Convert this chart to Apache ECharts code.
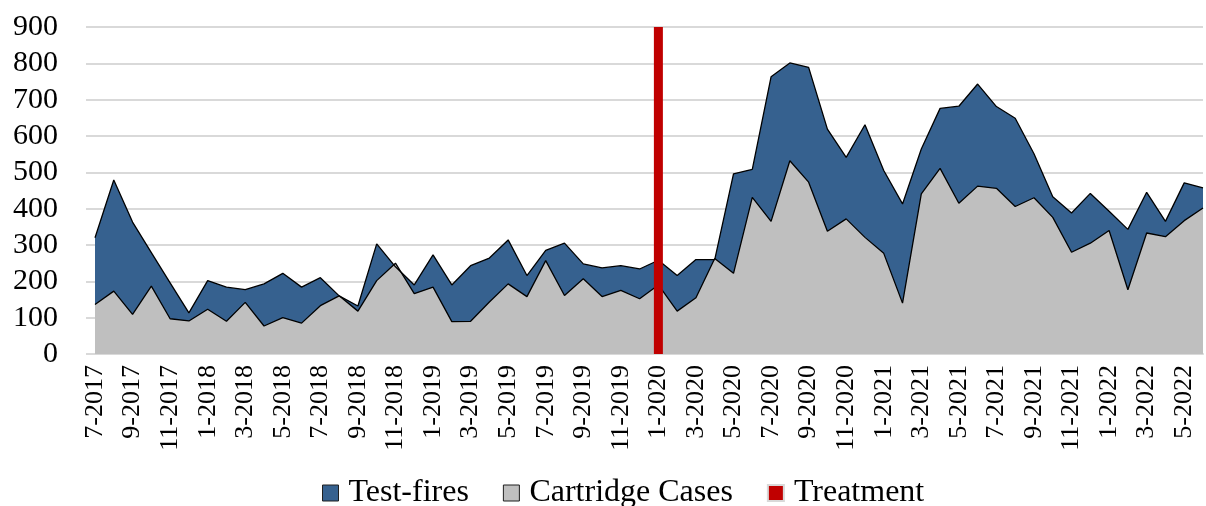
<html>
    <head>
        <meta charset="UTF-8">
    </head>
    <body style="margin:0">
        <div id="container" style="width: 1206px;height: 506px"></div>
        <script type="text/javascript" src="https://cdn.jsdelivr.net/npm/echarts@6/dist/echarts.min.js"></script>
        <script type="text/javascript">
        var months = ['7-2017','8-2017','9-2017','10-2017','11-2017','12-2017',
            '1-2018','2-2018','3-2018','4-2018','5-2018','6-2018','7-2018','8-2018','9-2018','10-2018','11-2018','12-2018',
            '1-2019','2-2019','3-2019','4-2019','5-2019','6-2019','7-2019','8-2019','9-2019','10-2019','11-2019','12-2019',
            '1-2020','2-2020','3-2020','4-2020','5-2020','6-2020','7-2020','8-2020','9-2020','10-2020','11-2020','12-2020',
            '1-2021','2-2021','3-2021','4-2021','5-2021','6-2021','7-2021','8-2021','9-2021','10-2021','11-2021','12-2021',
            '1-2022','2-2022','3-2022','4-2022','5-2022','6-2022'];

        var testFires = [320,479,363,279,196,113,
            202,184,177,193,222,184,210,160,132,303,240,190,
            273,190,243,264,314,216,285,305,248,237,243,234,
            258,216,260,260,496,508,763,801,789,619,541,631,
            505,413,564,676,682,743,681,649,551,433,388,442,
            393,343,445,365,471,457];

        var cartridgeCases = [136,173,109,187,97,91,
            123,90,142,77,100,85,133,160,118,202,250,166,
            184,89,90,143,193,158,257,161,207,158,175,152,
            190,118,155,263,222,431,365,532,473,338,372,321,
            277,140,441,511,415,462,456,406,430,376,280,305,
            340,177,333,323,367,402];

        var treatmentMonth = '1-2020';
        var treatmentValue = 900;

        var treatment = months.map(function (m) {
            return m === treatmentMonth ? treatmentValue : null;
        });

        var blue = '#36618f';
        var grey = '#bfbfbf';
        var red = '#c00000';
        var serif = 'Liberation Serif';

        var myChart = echarts.init(document.getElementById("container"));
        var option = {
            animation: false,
            grid: {left: 95, right: 3, top: 27, bottom: 152},
            legend: {
                top: 472,
                left: 317,
                itemWidth: 16,
                itemHeight: 16,
                itemGap: 34,
                textStyle: {fontFamily: serif, fontSize: 32, color: '#000', padding: [0, 0, 0, 5]},
                data: [
                    {name: 'Test-fires', icon: 'rect', itemStyle: {color: blue, borderColor: '#1f1f1f', borderWidth: 1}},
                    {name: 'Cartridge Cases', icon: 'rect', itemStyle: {color: grey, borderColor: '#1f1f1f', borderWidth: 1}},
                    {name: 'Treatment', icon: 'rect', itemStyle: {color: red, borderColor: '#d9d9d9', borderWidth: 2}}
                ]
            },
            xAxis: {
                type: 'category',
                data: months,
                boundaryGap: false,
                axisLine: {lineStyle: {color: '#d9d9d9', width: 2}},
                axisTick: {show: false},
                axisLabel: {
                    interval: 1,
                    rotate: 90,
                    margin: 11,
                    fontFamily: serif,
                    fontSize: 26,
                    color: '#000'
                }
            },
            yAxis: {
                type: 'value',
                min: 0,
                max: 900,
                interval: 100,
                axisLine: {show: false},
                axisTick: {show: true, length: 9, lineStyle: {color: '#d9d9d9', width: 2}},
                splitLine: {lineStyle: {color: '#d9d9d9', width: 2}},
                axisLabel: {
                    margin: 37,
                    fontFamily: serif,
                    fontSize: 30,
                    color: '#000'
                }
            },
            series: [
                {
                    name: 'Test-fires',
                    type: 'line',
                    data: testFires,
                    symbol: 'none',
                    itemStyle: {color: blue},
                    lineStyle: {color: '#000', width: 1.3},
                    areaStyle: {color: blue, opacity: 1}
                },
                {
                    name: 'Cartridge Cases',
                    type: 'line',
                    data: cartridgeCases,
                    symbol: 'none',
                    itemStyle: {color: grey},
                    lineStyle: {color: '#000', width: 1.3},
                    areaStyle: {color: grey, opacity: 1}
                },
                {
                    name: 'Treatment',
                    type: 'bar',
                    data: treatment,
                    barWidth: 9,
                    itemStyle: {color: red},
                    z: 5
                }
            ]
        };
        myChart.setOption(option);
        </script>
    </body>
</html>
